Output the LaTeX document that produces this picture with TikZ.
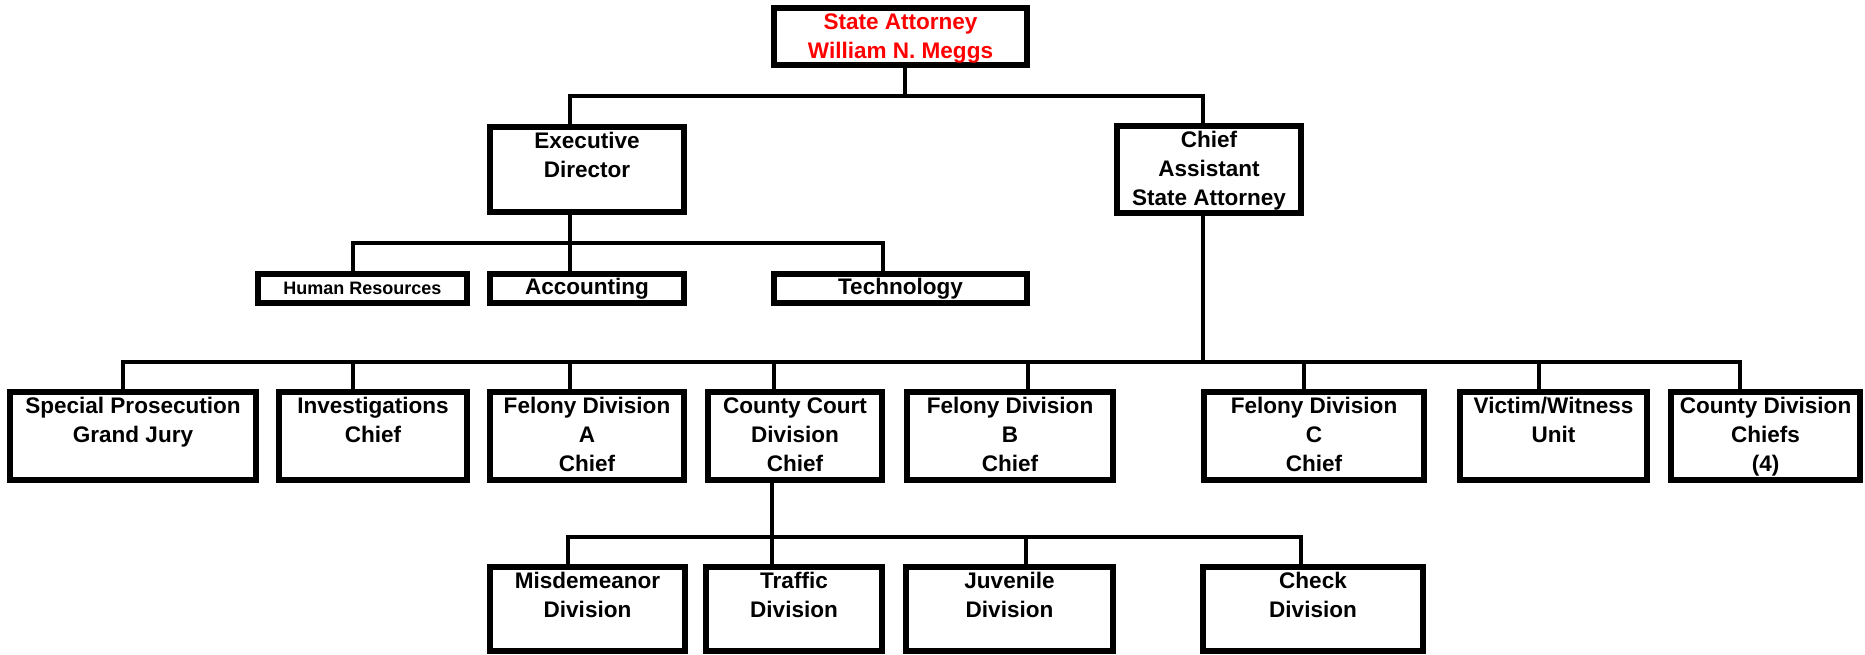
\documentclass[tikz,border=0pt]{standalone}
\usepackage{fontspec}
\setmainfont{Liberation Sans}

% box contents: width and height in px, text hung from the top edge
\newcommand\toptext[3]{\parbox[c][\dimexpr #2pt*3/4\relax][t]{\dimexpr #1pt*3/4\relax}{\centering\rule{0pt}{16.2pt}#3\par}}

\tikzset{
  orgbox/.style={draw=black, line width=4pt, fill=white, inner sep=0pt, outer sep=0pt,
    anchor=north west, font=\bfseries\fontsize{16.9}{21.75}\selectfont},
  smallbox/.style={orgbox, align=center},
  link/.style={draw=black, line width=3.5pt, line join=miter},
}

\begin{document}
\begin{tikzpicture}[x=0.75pt, y=-0.75pt]
\useasboundingbox (0,0) rectangle (1865,654);

% ---- top level ----
\node[orgbox, text=red] (sa) at (774,8) {\toptext{253}{57}{State Attorney\\William N. Meggs}};

% ---- second level ----
\node[orgbox] (ed) at (490,127) {\toptext{194}{85}{Executive\\Director}};
\node[orgbox] (ca) at (1117,126) {\toptext{184}{87}{Chief\\Assistant\\State Attorney}};

% ---- support units ----
\node[smallbox, minimum width={209*0.75pt}, minimum height={29*0.75pt},
      font=\bfseries\fontsize{13.5}{16}\selectfont] (hr) at (258,274) {Human Resources};
\node[smallbox, minimum width={194*0.75pt}, minimum height={29*0.75pt}] (acc) at (490,274) {Accounting};
\node[smallbox, minimum width={253*0.75pt}, minimum height={29*0.75pt}] (tech) at (774,274) {Technology};

% ---- divisions ----
\node[orgbox] (sp)  at (10,392)   {\toptext{246}{88}{Special Prosecution\\Grand Jury}};
\node[orgbox] (inv) at (279,392)  {\toptext{188}{88}{Investigations\\Chief}};
\node[orgbox] (fa)  at (490,392)  {\toptext{194}{88}{Felony Division\\A\\Chief}};
\node[orgbox] (cc)  at (708,392)  {\toptext{174}{88}{County Court\\Division\\Chief}};
\node[orgbox] (fb)  at (907,392)  {\toptext{206}{88}{Felony Division\\B\\Chief}};
\node[orgbox] (fc)  at (1204,392) {\toptext{220}{88}{Felony Division\\C\\Chief}};
\node[orgbox] (vw)  at (1460,392) {\toptext{187}{88}{Victim/Witness\\Unit}};
\node[orgbox] (cdc) at (1671,392) {\toptext{189}{88}{County Division\\Chiefs\\(4)}};

% ---- county court sections ----
\node[orgbox] (mis) at (490,567)  {\toptext{195}{84}{Misdemeanor\\Division}};
\node[orgbox] (tra) at (706,567)  {\toptext{176}{84}{Traffic\\Division}};
\node[orgbox] (juv) at (906,567)  {\toptext{207}{84}{Juvenile\\Division}};
\node[orgbox] (chk) at (1203,567) {\toptext{220}{84}{Check\\Division}};

% ---- bus junctions ----
\coordinate (b1m) at (905,96);
\coordinate (b1l) at (570,96);
\coordinate (b1r) at (1203,96);

\coordinate (b2l) at (353,243);
\coordinate (b2m) at (570,243);
\coordinate (b2r) at (883,243);

\coordinate (b3m) at (1203,362);
\coordinate (b3a) at (123,362);
\coordinate (b3b) at (353,362);
\coordinate (b3c) at (570,362);
\coordinate (b3d) at (774,362);
\coordinate (b3e) at (1028,362);
\coordinate (b3f) at (1304,362);
\coordinate (b3g) at (1539,362);
\coordinate (b3h) at (1740,362);

\coordinate (b4m) at (772,537);
\coordinate (b4a) at (568,537);
\coordinate (b4b) at (772,537);
\coordinate (b4c) at (1026,537);
\coordinate (b4d) at (1301,537);

% ---- connectors ----
\draw[link] (sa.south -| b1m) -- (b1m);
\draw[link] (ed.north -| b1l) -- (b1l) -- (b1r) -- (ca.north -| b1r);

\draw[link] (ed.south -| b2m) -- (acc.north -| b2m);
\draw[link] (hr.north -| b2l) -- (b2l) -- (b2r) -- (tech.north -| b2r);

\draw[link] (ca.south -| b3m) -- (b3m);
\draw[link] (sp.north -| b3a) -- (b3a) -- (b3h) -- (cdc.north -| b3h);
\draw[link] (b3b) -- (inv.north -| b3b);
\draw[link] (b3c) -- (fa.north -| b3c);
\draw[link] (b3d) -- (cc.north -| b3d);
\draw[link] (b3e) -- (fb.north -| b3e);
\draw[link] (b3f) -- (fc.north -| b3f);
\draw[link] (b3g) -- (vw.north -| b3g);

\draw[link] (cc.south -| b4m) -- (b4m);
\draw[link] (mis.north -| b4a) -- (b4a) -- (b4d) -- (chk.north -| b4d);
\draw[link] (b4b) -- (tra.north -| b4b);
\draw[link] (b4c) -- (juv.north -| b4c);
\end{tikzpicture}
\end{document}
